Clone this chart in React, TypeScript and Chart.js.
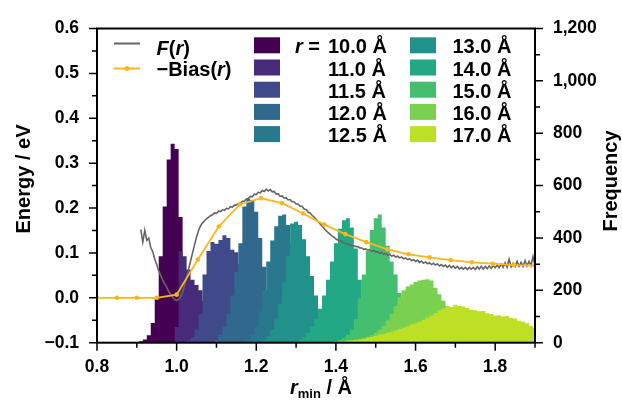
import React, { useEffect, useRef } from 'react';
import { Chart, registerables } from 'chart.js';

Chart.register(...registerables);

const FONT = "'Liberation Sans', Arial, Helvetica, sans-serif";

// ---------- axes ----------
const X_TICKS = [0.8, 1.0, 1.2, 1.4, 1.6, 1.8];
const X_MINOR = [0.9, 1.1, 1.3, 1.5, 1.7, 1.9];
const E_TICKS = [-0.1, 0.0, 0.1, 0.2, 0.3, 0.4, 0.5, 0.6];
const E_MINOR = [-0.05, 0.05, 0.15, 0.25, 0.35, 0.45, 0.55];
const F_TICKS = [0, 200, 400, 600, 800, 1000, 1200];
const F_MINOR = [100, 300, 500, 700, 900, 1100];

// ---------- F(r) (energy, eV), sampled every 0.005 Å from 0.91 ----------
const F_R0 = 0.91;
const F_DR = 0.005;
const F_E = [
  0.152, 0.124, 0.150, 0.128, 0.133, 0.112, 0.103, 0.086, 0.074, 0.060,
  0.050, 0.040, 0.031, 0.024, 0.014, 0.008, 0.001, -0.004, -0.006, -0.003,
  0.002, 0.012, 0.028, 0.046, 0.064, 0.082, 0.100, 0.118, 0.136, 0.150,
  0.160, 0.167, 0.171, 0.176, 0.179, 0.183, 0.185, 0.189, 0.188, 0.193,
  0.192, 0.196, 0.195, 0.199, 0.198, 0.203, 0.202, 0.206, 0.207, 0.210,
  0.211, 0.215, 0.215, 0.220, 0.221, 0.226, 0.225, 0.231, 0.230, 0.235,
  0.234, 0.239, 0.237, 0.242, 0.238, 0.241, 0.236, 0.237, 0.231, 0.232,
  0.226, 0.227, 0.222, 0.223, 0.218, 0.219, 0.214, 0.214, 0.209, 0.209,
  0.204, 0.204, 0.198, 0.197, 0.191, 0.189, 0.184, 0.180, 0.175, 0.170,
  0.165, 0.160, 0.155, 0.150, 0.146, 0.142, 0.138, 0.135, 0.131, 0.129,
  0.127, 0.125, 0.122, 0.121, 0.119, 0.119, 0.116, 0.116, 0.114, 0.114,
  0.111, 0.111, 0.108, 0.109, 0.106, 0.107, 0.104, 0.105, 0.102, 0.103,
  0.099, 0.101, 0.097, 0.099, 0.095, 0.097, 0.093, 0.095, 0.091, 0.093,
  0.089, 0.091, 0.087, 0.089, 0.085, 0.087, 0.083, 0.085, 0.081, 0.084,
  0.079, 0.082, 0.077, 0.080, 0.076, 0.078, 0.074, 0.077, 0.073, 0.076,
  0.071, 0.074, 0.070, 0.073, 0.068, 0.072, 0.067, 0.071, 0.066, 0.070,
  0.064, 0.068, 0.064, 0.068, 0.063, 0.068, 0.064, 0.068, 0.063, 0.069,
  0.064, 0.070, 0.064, 0.070, 0.065, 0.071, 0.066, 0.072, 0.067, 0.073,
  0.067, 0.075, 0.068, 0.078, 0.068, 0.086, 0.069, 0.077, 0.070, 0.081,
  0.070, 0.079, 0.070, 0.083, 0.071, 0.081, 0.072, 0.092, 0.073,
];

// ---------- −Bias(r) ----------
const BIAS_R = [0.8, 0.85, 0.9, 0.95, 1.0, 1.0529, 1.1059, 1.1588, 1.2118, 1.2647, 1.3176, 1.3706,
  1.4235, 1.4765, 1.5294, 1.5824, 1.6353, 1.6882, 1.7412, 1.7941, 1.8471, 1.9];
const BIAS_E = [0, 0, 0, 0, 0.007, 0.085, 0.159, 0.208, 0.222, 0.211, 0.188, 0.163,
  0.142, 0.124, 0.108, 0.097, 0.090, 0.084, 0.079, 0.076, 0.073, 0.072];

// ---------- histograms (frequency), bins of 0.01 Å ----------
const BIN = 0.01;
const HIST_LABELS = ['10.0 Å', '11.0 Å', '11.5 Å', '12.0 Å', '12.5 Å', '13.0 Å', '14.0 Å', '15.0 Å', '16.0 Å', '17.0 Å'];
const HIST_COLORS = ['#440154', '#472a7a', '#3e4a89', '#31688e', '#2a788e', '#21918c', '#22a884', '#44bf70', '#7ad151', '#bddf26'];
const HIST_START = [0.90, 0.99, 1.02, 1.10, 1.17, 1.21, 1.29, 1.39, 1.45, 1.38];
const H_10_0 = [3, 6, 12, 28, 75, 170, 330, 520, 700, 760, 740, 480, 260, 120, 50, 18, 6];
const H_11_0 = [0, 60, 350, 330, 280, 240, 220, 200, 160, 110, 60, 30, 12, 4];
const H_11_5 = [3, 8, 20, 50, 110, 260, 350, 385, 378, 392, 410, 400, 355, 345, 300, 220, 150, 90, 50, 25, 10, 4];
const H_12_0 = [10, 30, 60, 110, 180, 270, 380, 520, 550, 545, 500, 400, 290, 190, 110, 60, 25, 10, 3];
const H_12_5 = [5, 12, 30, 60, 120, 200, 310, 390, 445, 485, 490, 450, 380, 290, 200, 130, 70, 35, 15, 5];
const H_13_0 = [4, 10, 25, 50, 90, 150, 230, 330, 455, 462, 450, 395, 330, 255, 180, 120, 75, 40, 18, 6];
const H_14_0 = [3, 6, 12, 22, 38, 60, 90, 130, 180, 240, 310, 380, 435, 468, 475, 440, 360, 240, 150, 90, 50, 25, 10, 3];
const H_15_0 = [3, 6, 10, 18, 30, 50, 90, 170, 260, 350, 430, 475, 490, 440, 370, 310, 260, 190, 130, 85, 50, 25, 10, 3];
const H_16_0 = [4, 8, 14, 20, 28, 38, 50, 65, 85, 110, 140, 175, 200, 215, 222, 232, 238, 240, 242, 238, 210, 185, 160, 140, 120, 95, 75, 55, 38, 24, 12, 5];
const H_17_0 = [2, 3, 4, 5, 6, 8, 9, 11, 13, 16, 20, 22, 26, 30, 33, 38, 42, 47, 52, 58, 63, 70, 74, 80, 88, 95, 104, 112, 124, 132, 140, 136, 145, 140, 138, 133, 126, 124, 120, 121, 112, 110, 104, 105, 100, 102, 94, 92, 84, 80, 74, 64, 55];
const HIST_VALUES = [H_10_0, H_11_0, H_11_5, H_12_0, H_12_5, H_13_0, H_14_0, H_15_0, H_16_0, H_17_0];

const GRAY = '#656565';
const ORANGE = '#FDB51C';

function histPoints(start: number, vals: number[]) {
  const pts = [{ x: start - BIN, y: 0 }];
  vals.forEach((v, i) => pts.push({ x: start + i * BIN, y: v }));
  pts.push({ x: start + vals.length * BIN, y: 0 });
  return pts;
}

function drawRuns(ctx: CanvasRenderingContext2D, x: number, y: number, runs: [string, string][]) {
  let cx = x;
  for (const [t, f] of runs) {
    ctx.font = f;
    ctx.fillText(t, cx, y);
    cx += ctx.measureText(t).width;
  }
  return cx;
}

const B20 = `bold 20px ${FONT}`;
const I20 = `italic bold 20px ${FONT}`;

const framePlugin = {
  id: 'frame',
  afterDraw(chart: any) {
    const { ctx, chartArea: ca, scales } = chart;
    const sx = scales.x, sy = scales.y, sf = scales.y1;
    ctx.save();
    ctx.strokeStyle = '#000';
    ctx.fillStyle = '#000';
    // ticks
    ctx.lineWidth = 1.5;
    ctx.beginPath();
    const tick = (arr: number[], len: number) => {
      for (const v of arr) {
        const px = sx.getPixelForValue(v);
        ctx.moveTo(px, ca.bottom);
        ctx.lineTo(px, ca.bottom + len);
      }
    };
    tick(X_TICKS, 8);
    tick(X_MINOR, 5);
    for (const v of E_TICKS) { const py = sy.getPixelForValue(v); ctx.moveTo(ca.left, py); ctx.lineTo(ca.left - 8, py); }
    for (const v of E_MINOR) { const py = sy.getPixelForValue(v); ctx.moveTo(ca.left, py); ctx.lineTo(ca.left - 5, py); }
    for (const v of F_TICKS) { const py = sf.getPixelForValue(v); ctx.moveTo(ca.right, py); ctx.lineTo(ca.right + 8, py); }
    for (const v of F_MINOR) { const py = sf.getPixelForValue(v); ctx.moveTo(ca.right, py); ctx.lineTo(ca.right + 5, py); }
    ctx.stroke();
    // frame
    ctx.lineWidth = 2;
    ctx.strokeRect(ca.left, ca.top, ca.right - ca.left, ca.bottom - ca.top);

    // axis titles
    ctx.textBaseline = 'alphabetic';
    ctx.font = B20;
    ctx.textAlign = 'center';
    ctx.save();
    ctx.translate(30, 179);
    ctx.rotate(-Math.PI / 2);
    ctx.fillText('Energy / eV', 0, 0);
    ctx.restore();
    ctx.save();
    ctx.translate(617, 181);
    ctx.rotate(-Math.PI / 2);
    ctx.fillText('Frequency', 0, 0);
    ctx.restore();
    ctx.textAlign = 'left';
    let xx = drawRuns(ctx, 290, 393.5, [['r', I20]]);
    ctx.font = `bold 13px ${FONT}`;
    ctx.fillText('min', xx, 397.5);
    xx += ctx.measureText('min').width;
    drawRuns(ctx, xx, 393.5, [[' / Å', B20]]);

    // line legend
    ctx.lineWidth = 2;
    ctx.strokeStyle = GRAY;
    ctx.beginPath(); ctx.moveTo(114, 43.5); ctx.lineTo(140, 43.5); ctx.stroke();
    ctx.strokeStyle = ORANGE;
    ctx.beginPath(); ctx.moveTo(114, 68.5); ctx.lineTo(140, 68.5); ctx.stroke();
    ctx.fillStyle = ORANGE;
    ctx.beginPath(); ctx.arc(127, 68.5, 2.5, 0, Math.PI * 2); ctx.fill();
    ctx.fillStyle = '#000';
    drawRuns(ctx, 156.5, 54.5, [['F', I20], ['(', B20], ['r', I20], [')', B20]]);
    drawRuns(ctx, 156.5, 75.5, [['\u2212Bias(', B20], ['r', I20], [')', B20]]);

    // histogram legend
    for (let i = 0; i < HIST_LABELS.length; i++) {
      const col = i < 5 ? 0 : 1;
      const row = i % 5;
      const bx = col === 0 ? 254 : 410;
      const tx = col === 0 ? 328 : 452.5;
      const by = 37.3 + row * 22.2;
      ctx.fillStyle = HIST_COLORS[i];
      ctx.fillRect(bx, by, 26, 16);
      ctx.fillStyle = '#000';
      if (i === 0) {
        drawRuns(ctx, 295, by + 16, [['r', I20], [' = ', B20]]);
      }
      ctx.font = B20;
      ctx.fillText(HIST_LABELS[i], tx, by + 16);
    }
    ctx.restore();
  },
};

export default function App() {
  const ref = useRef<HTMLCanvasElement>(null);
  useEffect(() => {
    const histDatasets = HIST_VALUES.map((vals, i) => ({
      type: 'line' as const,
      label: HIST_LABELS[i],
      data: histPoints(HIST_START[i], vals),
      yAxisID: 'y1',
      stepped: 'middle' as const,
      fill: 'origin',
      backgroundColor: HIST_COLORS[i],
      borderColor: HIST_COLORS[i],
      borderWidth: 0,
      pointRadius: 0,
      order: 20 - i,
    }));
    const fData = F_E.map((v, i) => ({ x: F_R0 + i * F_DR, y: v }));
    const biasData = BIAS_R.map((r, i) => ({ x: r, y: BIAS_E[i] }));
    const tickFont = { family: FONT, size: 17.5, weight: 'bold' as const };
    const chart = new Chart(ref.current as HTMLCanvasElement, {
      type: 'line',
      data: {
        datasets: [
          {
            label: '\u2212Bias(r)',
            data: biasData,
            yAxisID: 'y',
            borderColor: ORANGE,
            backgroundColor: ORANGE,
            borderWidth: 1.8,
            pointRadius: 2.3,
            pointBorderWidth: 0,
            pointBackgroundColor: ORANGE,
            fill: false,
            tension: 0,
            order: 0,
          },
          {
            label: 'F(r)',
            data: fData,
            yAxisID: 'y',
            borderColor: GRAY,
            borderWidth: 1.6,
            pointRadius: 0,
            fill: false,
            tension: 0,
            order: 1,
          },
          ...histDatasets,
        ] as any,
      },
      options: {
        responsive: false,
        animation: false,
        devicePixelRatio: 1,
        events: [],
        layout: { padding: { top: 20, left: 0, right: 0, bottom: 0 } },
        plugins: { legend: { display: false }, tooltip: { enabled: false } },
        scales: {
          x: {
            type: 'linear',
            min: 0.8,
            max: 1.9,
            grid: { display: false, drawTicks: false },
            border: { display: false },
            afterBuildTicks: (s: any) => { s.ticks = X_TICKS.map((v) => ({ value: v })); },
            afterFit: (s: any) => { s.height = 62.3; },
            ticks: {
              font: tickFont,
              color: '#000',
              padding: 14,
              maxRotation: 0,
              autoSkip: false,
              callback: (v: any) => Number(v).toFixed(1),
            },
          },
          y: {
            type: 'linear',
            position: 'left',
            min: -0.1,
            max: 0.6,
            grid: { display: false, drawTicks: false },
            border: { display: false },
            afterBuildTicks: (s: any) => { s.ticks = E_TICKS.map((v) => ({ value: v })); },
            afterFit: (s: any) => { s.width = 97; },
            ticks: {
              font: tickFont,
              color: '#000',
              padding: 18,
              autoSkip: false,
              callback: (v: any) => {
                const n = Number(v);
                return n < -1e-9 ? '\u2212' + Math.abs(n).toFixed(1) : Math.abs(n).toFixed(1);
              },
            },
          },
          y1: {
            type: 'linear',
            position: 'right',
            min: 0,
            max: 1200,
            grid: { display: false, drawTicks: false },
            border: { display: false },
            afterBuildTicks: (s: any) => { s.ticks = F_TICKS.map((v) => ({ value: v })); },
            afterFit: (s: any) => { s.width = 87; },
            ticks: {
              font: tickFont,
              color: '#000',
              padding: 18,
              autoSkip: false,
              callback: (v: any) => Number(v).toLocaleString('en-US'),
            },
          },
        },
      } as any,
      plugins: [framePlugin],
    });
    return () => chart.destroy();
  }, []);
  return (
    <div style={{ position: 'absolute', left: 0, top: 0, width: 622, height: 405, background: '#fff' }}>
      <canvas ref={ref} width={622} height={405} style={{ display: 'block', width: 622, height: 405 }} />
    </div>
  );
}
